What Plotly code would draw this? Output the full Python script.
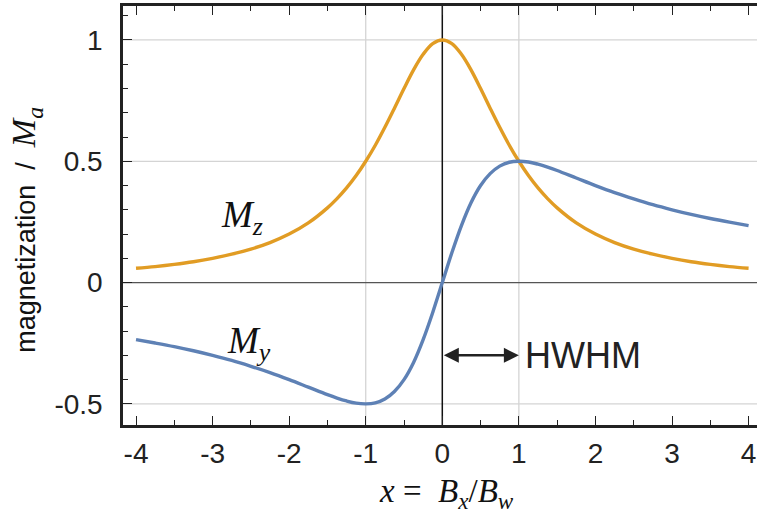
import plotly.graph_objects as go

# Data
x_vals = [-4.0, -3.75, -3.5, -3.25, -3.0, -2.75, -2.5, -2.25, -2.0, -1.75, -1.5, -1.375, -1.25, -1.125,
          -1.0, -0.875, -0.75, -0.625, -0.5, -0.375, -0.25, -0.125, 0.0, 0.125, 0.25, 0.375, 0.5, 0.625,
          0.75, 0.875, 1.0, 1.125, 1.25, 1.375, 1.5, 1.75,
          2.0, 2.25, 2.5, 2.75, 3.0, 3.25, 3.5, 3.75, 4.0]
mz_vals = [0.059, 0.066, 0.075, 0.086, 0.100, 0.117, 0.138, 0.165, 0.200, 0.246, 0.308, 0.346, 0.390, 0.441,
           0.500, 0.566, 0.640, 0.719, 0.800, 0.877, 0.941, 0.985, 1.000, 0.985, 0.941, 0.877, 0.800, 0.719,
           0.640, 0.566, 0.500, 0.441, 0.390, 0.346, 0.308, 0.246,
           0.200, 0.165, 0.138, 0.117, 0.100, 0.086, 0.075, 0.066, 0.059]
my_vals = [-0.235, -0.249, -0.264, -0.281, -0.300, -0.321, -0.345, -0.371, -0.400, -0.431, -0.462, -0.476, -0.488, -0.497,
           -0.500, -0.496, -0.480, -0.449, -0.400, -0.329, -0.235, -0.123, 0.000, 0.123, 0.235, 0.329, 0.400, 0.449,
           0.480, 0.496, 0.500, 0.497, 0.488, 0.476, 0.462, 0.431,
           0.400, 0.371, 0.345, 0.321, 0.300, 0.281, 0.264, 0.249, 0.235]
x_ticks = [-4, -3, -2, -1, 0, 1, 2, 3, 4]
x_tick_text = ["-4", "-3", "-2", "-1", "0", "1", "2", "3", "4"]
y_ticks = [-0.5, 0, 0.5, 1]
y_tick_text = ["-0.5", "0", "0.5", "1"]
hgrid = [-0.5, 0.5, 1.0]
vgrid = [-1.0, 1.0]
hwhm = [0.0, 1.0]
hwhm_y = -0.3

ORANGE = "#E19C24"
BLUE = "#5E81B5"
SANS = "Liberation Sans, Arial, sans-serif"
SERIF = "Liberation Serif, DejaVu Serif, serif"

fig = go.Figure()
fig.add_trace(go.Scatter(x=x_vals, y=mz_vals, mode="lines", line=dict(color=ORANGE, width=3.4, shape="spline", smoothing=1.0),
                         showlegend=False, hoverinfo="skip"))
fig.add_trace(go.Scatter(x=x_vals, y=my_vals, mode="lines", line=dict(color=BLUE, width=3.4, shape="spline", smoothing=1.0),
                         showlegend=False, hoverinfo="skip"))

shapes = []
for g in hgrid:
    shapes.append(dict(type="line", xref="paper", x0=0, x1=1, yref="y", y0=g, y1=g,
                       line=dict(color="#d4d4d4", width=1.3), layer="below"))
for g in vgrid:
    shapes.append(dict(type="line", yref="paper", y0=0, y1=1, xref="x", x0=g, x1=g,
                       line=dict(color="#d4d4d4", width=1.3), layer="below"))
shapes.append(dict(type="line", xref="paper", x0=0, x1=1, yref="y", y0=0, y1=0,
                   line=dict(color="#555555", width=1.3), layer="below"))
shapes.append(dict(type="line", yref="paper", y0=0, y1=1, xref="x", x0=0, x1=0,
                   line=dict(color="#111111", width=1.5), layer="below"))

annotations = [
    dict(x=hwhm[1], y=hwhm_y, ax=hwhm[0], ay=hwhm_y, xref="x", yref="y", axref="x", ayref="y",
         text="", showarrow=True, arrowhead=2, startarrowhead=2, arrowside="end+start",
         arrowsize=1.2, startarrowsize=1.2, arrowwidth=2.5, arrowcolor="#222222"),
    dict(x=1.05, y=hwhm_y, xref="x", yref="y", text="HWHM", showarrow=False, xanchor="left",
         font=dict(family=SANS, size=36, color="#222222")),
    dict(x=-2.62, y=0.27, xref="x", yref="y", text="<i>M</i><sub><i>z</i></sub>", showarrow=False,
         font=dict(family=SERIF, size=37, color="#111111")),
    dict(x=-2.53, y=-0.25, xref="x", yref="y", text="<i>M</i><sub><i>y</i></sub>", showarrow=False,
         font=dict(family=SERIF, size=37, color="#111111")),
    dict(x=0.06, y=-0.163, xref="x", yref="paper", yanchor="middle",
         text="<i>x</i> =  <i>B</i><sub><i>x</i></sub>/<i>B</i><sub><i>w</i></sub>", showarrow=False,
         font=dict(family=SERIF, size=33, color="#111111")),
    dict(x=-0.152, y=0.465, xref="paper", yref="paper", textangle=-90, xanchor="center", yanchor="middle",
         text="magnetization  /  <span style='font-family:Liberation Serif;font-size:34px'><i>M</i><sub><i>a</i></sub></span>",
         showarrow=False, font=dict(family=SANS, size=27, color="#111111")),
]

fig.update_layout(
    width=757, height=521,
    margin=dict(l=123, r=0, t=6, b=96),
    paper_bgcolor="white", plot_bgcolor="white",
    shapes=shapes, annotations=annotations,
    font=dict(family=SANS, color="#222222"),
    xaxis=dict(range=[-4.17, 4.11], tickvals=x_ticks, ticktext=x_tick_text,
               ticks="inside", ticklen=9, tickwidth=1.3, tickcolor="#222222",
               minor=dict(dtick=0.5, tick0=0, ticks="inside", ticklen=5, tickwidth=1.2, tickcolor="#222222"),
               showline=True, linecolor="#222222", linewidth=2.5, mirror="ticks",
               showgrid=False, zeroline=False, ticklabelstandoff=2,
               tickfont=dict(family=SANS, size=28, color="#222222")),
    yaxis=dict(range=[-0.587, 1.14], tickvals=y_ticks, ticktext=y_tick_text,
               ticks="inside", ticklen=9, tickwidth=1.3, tickcolor="#222222",
               minor=dict(dtick=0.1, tick0=0, ticks="inside", ticklen=5, tickwidth=1.2, tickcolor="#222222"),
               showline=True, linecolor="#222222", linewidth=2.5, mirror=False,
               showgrid=False, zeroline=False, ticklabelstandoff=12,
               tickfont=dict(family=SANS, size=28, color="#222222")),
)

fig.write_html("out.html", config={"displayModeBar": False},
               post_script="document.body.style.margin='0';document.body.style.padding='0';")
